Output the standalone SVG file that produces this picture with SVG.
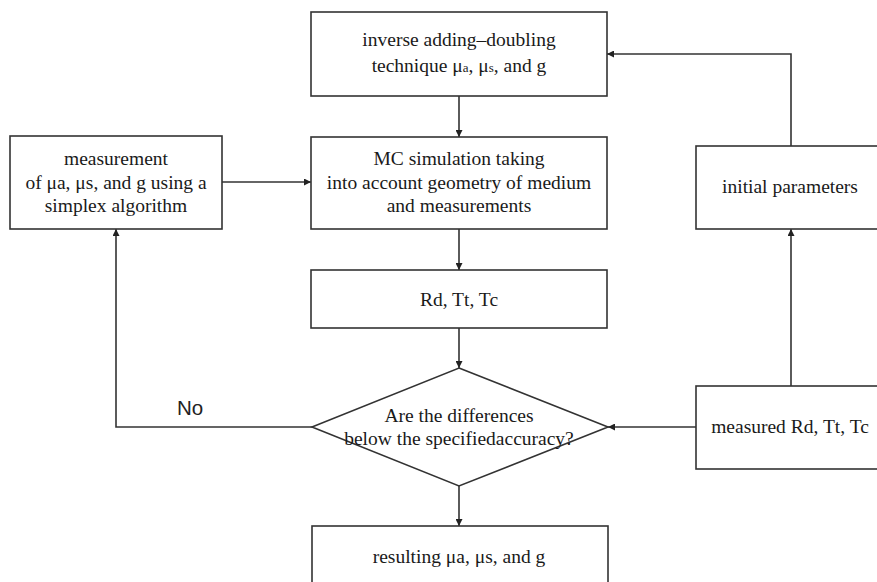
<svg xmlns="http://www.w3.org/2000/svg" width="877" height="582" viewBox="0 0 877 582">
<defs>
<marker id="arr" viewBox="0 0 10 10" refX="10" refY="5" markerWidth="9" markerHeight="7" markerUnits="userSpaceOnUse" orient="auto">
<path d="M0,0 L10,5 L0,10 z" fill="#222"/>
</marker>
<style>
.box{fill:#fff;stroke:#333;stroke-width:1.6}
.t{font-family:"Liberation Serif","Times New Roman",serif;font-size:19.5px;fill:#1a1a1a;text-anchor:middle}
.sm{font-size:13px}
.con{fill:none;stroke:#333;stroke-width:1.6}
.lbl{font-family:"Liberation Sans",Arial,sans-serif;font-size:20.5px;fill:#222}
</style>
</defs>
<rect width="877" height="582" fill="#fff"/>
<g id="connectors">
<path class="con" marker-end="url(#arr)" d="M459,96 L459,137"/>
<path class="con" marker-end="url(#arr)" d="M222,182 L311,182"/>
<path class="con" marker-end="url(#arr)" d="M459,229 L459,270"/>
<path class="con" marker-end="url(#arr)" d="M459,328 L459,368"/>
<path class="con" marker-end="url(#arr)" d="M459,486 L459,526"/>
<path class="con" marker-end="url(#arr)" d="M696,427 L608,427"/>
<path class="con" marker-end="url(#arr)" d="M791,386 L791,229"/>
<path class="con" marker-end="url(#arr)" d="M791,146 L791,54 L607,54"/>
<path class="con" marker-end="url(#arr)" d="M312,427 L116,427 L116,229"/>
<text class="lbl" x="177" y="415">No</text>
</g>
<g id="n-inverse">
<rect class="box" x="311" y="12" width="296" height="84"/>
<text class="t" x="459" y="46">inverse adding–doubling</text>
<text class="t" x="459" y="72">technique μ<tspan class="sm">a</tspan>, μ<tspan class="sm">s</tspan>, and g</text>
</g>
<g id="n-mc">
<rect class="box" x="311" y="137" width="296" height="92"/>
<text class="t" x="459" y="165">MC simulation taking</text>
<text class="t" x="459" y="189">into account geometry of medium</text>
<text class="t" x="459" y="212">and measurements</text>
</g>
<g id="n-simplex">
<rect class="box" x="10" y="136" width="212" height="93"/>
<text class="t" x="116" y="165">measurement</text>
<text class="t" x="116" y="189">of μa, μs, and g using a</text>
<text class="t" x="116" y="212">simplex algorithm</text>
</g>
<g id="n-initial">
<rect class="box" x="696" y="146" width="190" height="83"/>
<text class="t" x="790" y="193">initial parameters</text>
</g>
<g id="n-rdttc">
<rect class="box" x="311" y="270" width="296" height="58"/>
<text class="t" x="459" y="306">Rd, Tt, Tc</text>
</g>
<g id="n-decision">
<polygon class="box" points="459,368 608,427 459,486 312,427"/>
<text class="t" x="459" y="422">Are the differences</text>
<text class="t" x="459" y="445">below the specifiedaccuracy?</text>
</g>
<g id="n-measured">
<rect class="box" x="696" y="386" width="190" height="83"/>
<text class="t" x="790" y="433">measured Rd, Tt, Tc</text>
</g>
<g id="n-result">
<rect class="box" x="312" y="526" width="296" height="70"/>
<text class="t" x="459" y="563">resulting μa, μs, and g</text>
</g>
</svg>
